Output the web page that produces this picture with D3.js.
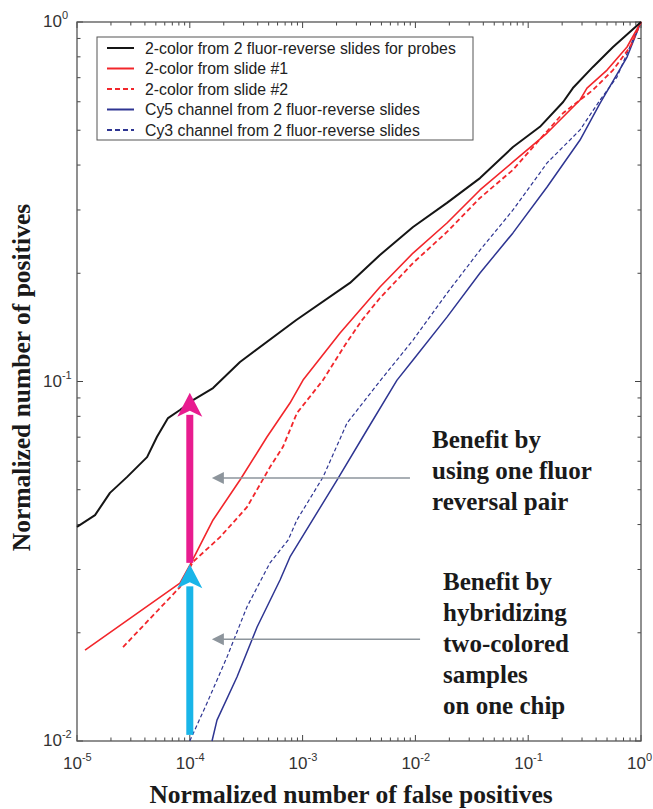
<!DOCTYPE html>
<html>
<head>
  <meta charset="utf-8">
  <title>Normalized positives vs false positives</title>
  <script src="https://cdnjs.cloudflare.com/ajax/libs/d3/7.8.5/d3.min.js"></script>
  <style>
    body { margin: 0; background: #fff; }
    svg { display: block; }
    .tick-label { font-family: "Liberation Sans", Arial, sans-serif; fill: #333; }
    .legend-text { font-family: "Liberation Sans", Arial, sans-serif; font-size: 15.8px; fill: #222; }
    .axis-title, .note { font-family: "Liberation Serif", "Times New Roman", serif; font-weight: bold; fill: #1a1a1a; }
  </style>
</head>
<body>
<div id="canvas"></div>
<script>
  /*
   Data: [false positives, positives]
   */
  var seriesNames = [
    "2-color from 2 fluor-reverse slides for probes",
    "2-color from slide #1",
    "2-color from slide #2",
    "Cy5 channel from 2 fluor-reverse slides",
    "Cy3 channel from 2 fluor-reverse slides"
  ];

  var blackProbes = [
    [1e-5, 0.0394], [1.445e-5, 0.0425], [1.96e-5, 0.049], [2.77e-5, 0.0542], [4.18e-5, 0.0616],
    [5.12e-5, 0.0702], [6.41e-5, 0.0791], [8.18e-5, 0.0833], [1.067e-4, 0.0888], [1.607e-4, 0.0959],
    [2.786e-4, 0.1133], [8.73e-4, 0.148], [2.63e-3, 0.188], [4.85e-3, 0.2248], [9.53e-3, 0.269],
    [1.905e-2, 0.314], [3.74e-2, 0.368], [7.33e-2, 0.449], [0.127, 0.511], [0.204, 0.599],
    [0.249, 0.655], [0.375, 0.750], [0.565, 0.852], [1, 1]
  ];

  var redSlide1 = [
    [1.178e-5, 0.0179], [8.18e-5, 0.0275], [1.005e-4, 0.0309], [1.607e-4, 0.0412], [2.786e-4, 0.0532],
    [4.83e-4, 0.0701], [7.73e-4, 0.0871], [1.009e-3, 0.1009], [2.148e-3, 0.1364], [4.85e-3, 0.1832],
    [9.53e-3, 0.2277], [1.905e-2, 0.276], [3.74e-2, 0.341], [7.33e-2, 0.408], [0.147, 0.491],
    [0.288, 0.607], [0.332, 0.655], [0.500, 0.735], [0.752, 0.852], [1, 1]
  ];

  var redSlide2 = [
    [2.56e-5, 0.01825], [8.18e-5, 0.0268], [1.067e-4, 0.0315], [1.854e-4, 0.0369], [3.21e-4, 0.0447],
    [5.14e-4, 0.0578], [6.70e-4, 0.0658], [8.91e-4, 0.0817], [1.517e-3, 0.1009], [2.38e-3, 0.1264],
    [3.37e-3, 0.1483], [4.85e-3, 0.1707], [9.53e-3, 0.2136], [1.905e-2, 0.2606], [3.74e-2, 0.324],
    [7.33e-2, 0.388], [0.204, 0.558], [0.375, 0.647], [0.565, 0.735], [0.80, 0.852], [1, 1]
  ];

  var blueCy5 = [
    [1.574e-4, 0.0100], [1.742e-4, 0.01143], [2.62e-4, 0.01507], [3.95e-4, 0.02075], [6.31e-4, 0.02805],
    [7.73e-4, 0.0325], [2.018e-3, 0.0532], [3.72e-3, 0.0733], [6.87e-3, 0.1009], [9.53e-3, 0.1148],
    [1.905e-2, 0.151], [3.74e-2, 0.2004], [7.33e-2, 0.259], [0.147, 0.3475], [0.288, 0.4695],
    [0.434, 0.595], [0.752, 0.799], [1, 1]
  ];

  var blueCy3 = [
    [1.0e-4, 0.0100], [1.422e-4, 0.01276], [2.14e-4, 0.01714], [3.21e-4, 0.0236], [5.14e-4, 0.0313],
    [7.43e-4, 0.0362], [8.91e-4, 0.0412], [1.517e-3, 0.0542], [2.48e-3, 0.0767], [4.85e-3, 0.1003],
    [9.53e-3, 0.1304], [1.905e-2, 0.176], [3.74e-2, 0.232], [7.33e-2, 0.300], [0.147, 0.4055],
    [0.288, 0.501], [0.434, 0.607], [0.612, 0.703], [0.923, 0.950], [1, 1]
  ];

  // x position and [from, to] values of the two benefit arrows
  var benefitArrows = [
    { x: 1e-4, from: 0.0104, to: 0.0310, color: "#19b5e8" },
    { x: 1e-4, from: 0.0313, to: 0.0930, color: "#e81c8f" }
  ];

  // grey pointer arrows: [tip x, tail x, y]
  var pointers = [
    [1.57e-4, 8.95e-3, 0.0539],
    [1.57e-4, 1.10e-2, 0.0192]
  ];

  var noteTop = ["Benefit by", "using one fluor", "reversal pair"];
  var noteBottom = ["Benefit by", "hybridizing", "two-colored", "samples", "on one chip"];

  var xTicks = [1e-5, 1e-4, 1e-3, 1e-2, 1e-1, 1];
  var xTickExp = ["-5", "-4", "-3", "-2", "-1", "0"];
  var yTicks = [1e-2, 1e-1, 1];
  var yTickExp = ["-2", "-1", "0"];

  var width = 653, height = 809,
    margin = { left: 77, right: 12, top: 22, bottom: 68 };

  var svg = d3.select("#canvas").append("svg")
    .attr("width", width)
    .attr("height", height);

  var x = d3.scaleLog().domain([1e-5, 1]).range([margin.left, width - margin.right]);
  var y = d3.scaleLog().domain([1e-2, 1]).range([height - margin.bottom, margin.top]);

  var x0 = x.range()[0], x1 = x.range()[1], y0 = y.range()[0], y1 = y.range()[1];

  /*
   Ticks: major and minor, inward on all four sides
   */
  function minorTicks(dom) {
    var out = [];
    for (var e = Math.round(Math.log10(dom[0])); e < Math.round(Math.log10(dom[1])); e++) {
      for (var m = 2; m <= 9; m++) out.push(m * Math.pow(10, e));
    }
    return out;
  }

  var tickG = svg.append("g").attr("stroke", "#444").attr("stroke-width", 1);
  var xAll = xTicks.map(function (d) { return { v: d, len: 6 }; })
    .concat(minorTicks(x.domain()).map(function (d) { return { v: d, len: 3.5 }; }));
  var yAll = yTicks.map(function (d) { return { v: d, len: 6 }; })
    .concat(minorTicks(y.domain()).map(function (d) { return { v: d, len: 3.5 }; }));

  xAll.forEach(function (t) {
    tickG.append("line").attr("x1", x(t.v)).attr("x2", x(t.v)).attr("y1", y0).attr("y2", y0 - t.len);
    tickG.append("line").attr("x1", x(t.v)).attr("x2", x(t.v)).attr("y1", y1).attr("y2", y1 + t.len);
  });
  yAll.forEach(function (t) {
    tickG.append("line").attr("y1", y(t.v)).attr("y2", y(t.v)).attr("x1", x0).attr("x2", x0 + t.len);
    tickG.append("line").attr("y1", y(t.v)).attr("y2", y(t.v)).attr("x1", x1).attr("x2", x1 - t.len);
  });

  // frame
  svg.append("rect")
    .attr("x", x0).attr("y", y1)
    .attr("width", x1 - x0).attr("height", y0 - y1)
    .attr("fill", "none").attr("stroke", "#555").attr("stroke-width", 1.3);

  // tick labels
  xTicks.forEach(function (d, i) {
    var t = svg.append("text").attr("class", "tick-label")
      .attr("x", x(d) - 14).attr("y", y0 + 28).attr("font-size", 17);
    t.append("tspan").text("10");
    t.append("tspan").attr("dy", -8).attr("font-size", 11).text(xTickExp[i]);
  });
  yTicks.forEach(function (d, i) {
    var t = svg.append("text").attr("class", "tick-label")
      .attr("x", x0 - 34).attr("y", y(d) + 5).attr("font-size", 17);
    t.append("tspan").text("10");
    t.append("tspan").attr("dy", -8).attr("font-size", 11).text(yTickExp[i]);
  });

  /*
   Curves
   */
  var line = d3.line()
    .x(function (d) { return x(d[0]); })
    .y(function (d) { return y(d[1]); });

  var curves = [
    { data: blueCy3, color: "#2e3592", width: 1.2, dash: "4,2.5" },
    { data: blueCy5, color: "#2e3592", width: 1.5, dash: null },
    { data: redSlide2, color: "#f2262b", width: 1.8, dash: "5,3" },
    { data: redSlide1, color: "#f2262b", width: 1.6, dash: null },
    { data: blackProbes, color: "#151515", width: 2, dash: null }
  ];

  svg.append("g").selectAll("path")
    .data(curves)
    .enter()
    .append("path")
    .attr("d", function (d) { return line(d.data); })
    .attr("fill", "none")
    .attr("stroke", function (d) { return d.color; })
    .attr("stroke-width", function (d) { return d.width; })
    .attr("stroke-dasharray", function (d) { return d.dash; })
    .attr("stroke-linejoin", "round");

  /*
   Benefit arrows
   */
  benefitArrows.forEach(function (a) {
    var ax = x(a.x), yb = y(a.from), yt = y(a.to), head = 24;
    svg.append("rect")
      .attr("x", ax - 3.5).attr("y", yt + head - 2)
      .attr("width", 7).attr("height", yb - yt - head + 2)
      .attr("fill", a.color);
    svg.append("path")
      .attr("d", "M" + ax + "," + yt + "L" + (ax + 12.5) + "," + (yt + head) +
        "L" + ax + "," + (yt + head - 6) + "L" + (ax - 12.5) + "," + (yt + head) + "Z")
      .attr("fill", a.color);
  });

  // grey pointers
  pointers.forEach(function (p) {
    var tx = x(p[0]), ex = x(p[1]), py = y(p[2]);
    svg.append("line")
      .attr("x1", tx + 8).attr("x2", ex).attr("y1", py).attr("y2", py)
      .attr("stroke", "#8d959c").attr("stroke-width", 1.5);
    svg.append("path")
      .attr("d", "M" + tx + "," + py + "L" + (tx + 12) + "," + (py - 6) +
        "L" + (tx + 12) + "," + (py + 6) + "Z")
      .attr("fill", "#8d959c");
  });

  // notes
  function note(lines, nx, ny) {
    var t = svg.append("text").attr("class", "note").attr("font-size", 25);
    lines.forEach(function (s, i) {
      t.append("tspan").attr("x", nx).attr("y", ny + i * 31).text(s);
    });
  }
  note(noteTop, 432, 448);
  note(noteBottom, 443, 590);

  /*
   Legend
   */
  var lg = svg.append("g");
  lg.append("rect")
    .attr("x", 97).attr("y", 37).attr("width", 376).attr("height", 103)
    .attr("fill", "#fff").attr("stroke", "#555").attr("stroke-width", 1);
  var legendOrder = [4, 3, 2, 1, 0];
  seriesNames.forEach(function (name, i) {
    var c = curves[legendOrder[i]], ly = 48 + i * 20.5;
    lg.append("line")
      .attr("x1", 107).attr("x2", 134).attr("y1", ly).attr("y2", ly)
      .attr("stroke", c.color).attr("stroke-width", 2)
      .attr("stroke-dasharray", c.dash ? "5,3" : null);
    lg.append("text").attr("class", "legend-text")
      .attr("x", 145).attr("y", ly + 5.5).text(name);
  });

  // axis titles
  svg.append("text").attr("class", "axis-title")
    .attr("x", (x0 + x1) / 2 - 8).attr("y", 803)
    .attr("text-anchor", "middle").attr("font-size", 25.5)
    .text("Normalized number of false positives");
  svg.append("text").attr("class", "axis-title")
    .attr("transform", "translate(30," + ((y0 + y1) / 2 - 4) + ") rotate(-90)")
    .attr("text-anchor", "middle").attr("font-size", 25.5)
    .text("Normalized number of positives");
</script>
</body>
</html>
